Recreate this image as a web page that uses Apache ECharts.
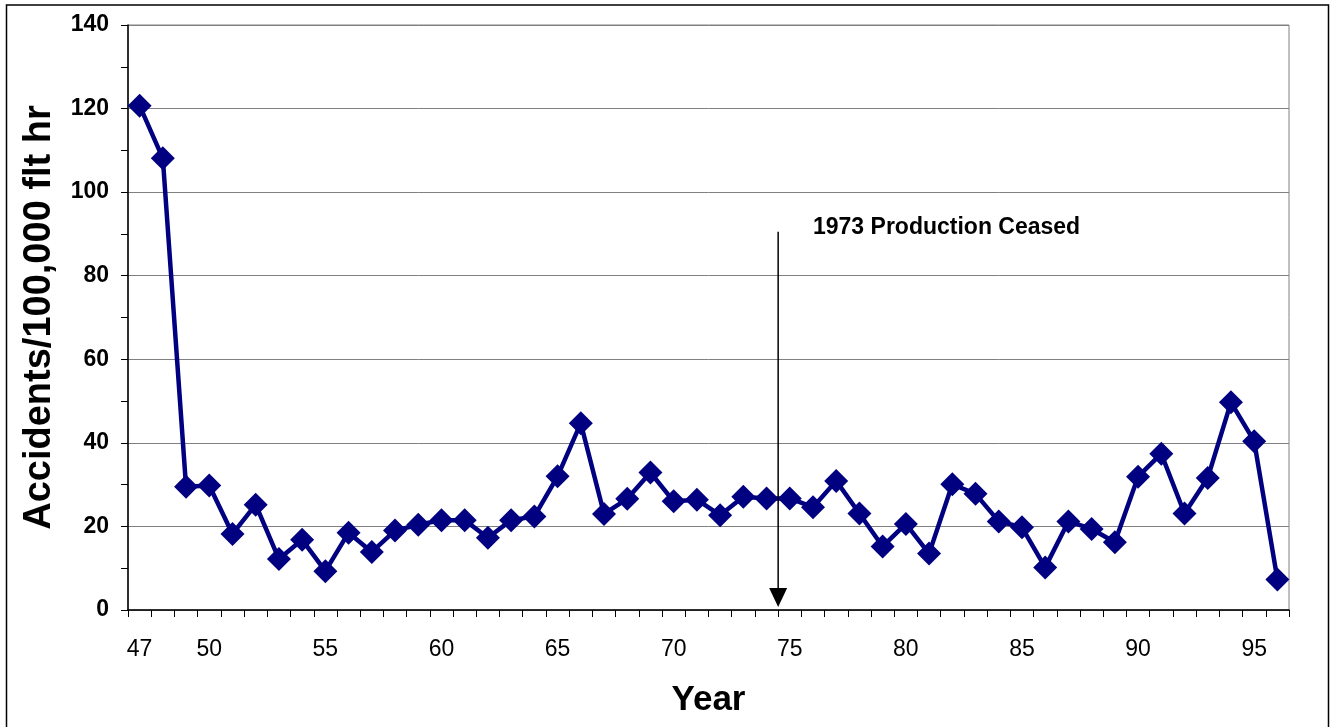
<!DOCTYPE html>
<html>
<head>
<meta charset="utf-8">
<script src="https://cdn.jsdelivr.net/npm/echarts@6/dist/echarts.min.js"></script>
<style>
  html, body { margin: 0; padding: 0; background: #fff; }
  #chart { width: 1330px; height: 727px; }
</style>
</head>
<body>
<div id="chart"></div>
<script>
// ---- data ----
const years = ['47','48','49','50','51','52','53','54','55','56','57','58','59','60','61','62','63','64','65','66','67','68','69','70','71','72','73','74','75','76','77','78','79','80','81','82','83','84','85','86','87','88','89','90','91','92','93','94','95','96'];
const accidentRate = [120.7,108.1,29.5,29.8,18.2,25.2,12.2,16.8,9.3,18.5,13.9,19.0,20.4,21.5,21.5,17.3,21.5,22.4,32.0,44.7,23.0,26.6,32.9,26.0,26.4,22.7,27.1,26.7,26.7,24.6,30.9,23.1,15.2,20.6,13.5,30.1,27.8,21.2,19.8,10.2,21.2,19.4,16.2,31.9,37.4,23.1,31.6,49.7,40.4,7.3];
const yTicks = { min: 0, max: 140, interval: 20 };
const shownYearLabels = ['47','50','55','60','65','70','75','80','85','90','95'];

// annotation (in data units)
const arrowBetween = ['74', '75'];
const arrowTopValue = 90.5;
const arrowTipValue = 0.7;
const noteText = '1973 Production Ceased';
const noteAnchorYear = '76';
const noteValue = 91.4;

const FONT = '"Liberation Sans", Arial, Helvetica, sans-serif';

const chart = echarts.init(document.getElementById('chart'));
chart.setOption({
  animation: false,
  backgroundColor: '#fff',
  grid: {
    left: 128, right: 41, top: 25, bottom: 117,
    show: true, borderColor: '#808080', borderWidth: 1, backgroundColor: 'transparent'
  },
  xAxis: {
    type: 'category',
    data: years,
    boundaryGap: true,
    name: 'Year',
    nameLocation: 'middle',
    nameGap: 73,
    nameTextStyle: { fontFamily: FONT, fontSize: 35, fontWeight: 'bold', color: '#000' },
    axisLine: { lineStyle: { color: '#000', width: 1.5 } },
    axisTick: { show: true, interval: 0, length: 7, lineStyle: { color: '#000', width: 1 } },
    axisLabel: {
      interval: (idx, val) => shownYearLabels.indexOf(val) >= 0,
      fontFamily: FONT, fontSize: 23, color: '#000', margin: 28
    },
    splitLine: { show: false }
  },
  yAxis: {
    type: 'value',
    min: yTicks.min, max: yTicks.max, interval: yTicks.interval,
    name: 'Accidents/100,000 flt hr',
    nameLocation: 'middle',
    nameGap: 69,
    nameTextStyle: { fontFamily: FONT, fontSize: 38, fontWeight: 'bold', color: '#000' },
    axisLine: { show: true, lineStyle: { color: '#000', width: 1.5 } },
    axisTick: { show: true, length: 7, lineStyle: { color: '#000', width: 1 } },
    minorTick: { show: true, splitNumber: 2, length: 7, lineStyle: { color: '#000', width: 1 } },
    axisLabel: { fontFamily: FONT, fontSize: 23, fontWeight: 'bold', color: '#000', margin: 19 },
    splitLine: { show: true, lineStyle: { color: '#808080', width: 1 } }
  },
  series: [{
    type: 'line',
    data: accidentRate,
    symbol: 'diamond',
    symbolSize: 24,
    showSymbol: true,
    showAllSymbol: true,
    itemStyle: { color: '#000080' },
    lineStyle: { color: '#000080', width: 4.5 },
    z: 3
  }]
});

function drawAnnotations() {
  const xa = chart.convertToPixel({ xAxisIndex: 0 }, arrowBetween[0]);
  const xb = chart.convertToPixel({ xAxisIndex: 0 }, arrowBetween[1]);
  const ax = (xa + xb) / 2;
  const yTop = chart.convertToPixel({ yAxisIndex: 0 }, arrowTopValue);
  const yTip = chart.convertToPixel({ yAxisIndex: 0 }, arrowTipValue);
  const tx = chart.convertToPixel({ xAxisIndex: 0 }, noteAnchorYear);
  const ty = chart.convertToPixel({ yAxisIndex: 0 }, noteValue);
  chart.setOption({
    graphic: [
      { type: 'rect', z: 100, shape: { x: 6.5, y: 5, width: 1322, height: 740 },
        style: { fill: 'none', stroke: '#000', lineWidth: 1.5 } },
      { type: 'line', z: 100, shape: { x1: ax, y1: yTop, x2: ax, y2: yTip - 17 },
        style: { stroke: '#000', lineWidth: 1.5 } },
      { type: 'polygon', z: 100, shape: { points: [[ax - 9, yTip - 19], [ax + 9, yTip - 19], [ax, yTip]] },
        style: { fill: '#000' } },
      { type: 'text', z: 100, x: tx, y: ty,
        style: { text: noteText, font: 'bold 23px ' + FONT, fill: '#000', textAlign: 'left', textVerticalAlign: 'middle' } }
    ]
  });
}
drawAnnotations();
</script>
</body>
</html>
